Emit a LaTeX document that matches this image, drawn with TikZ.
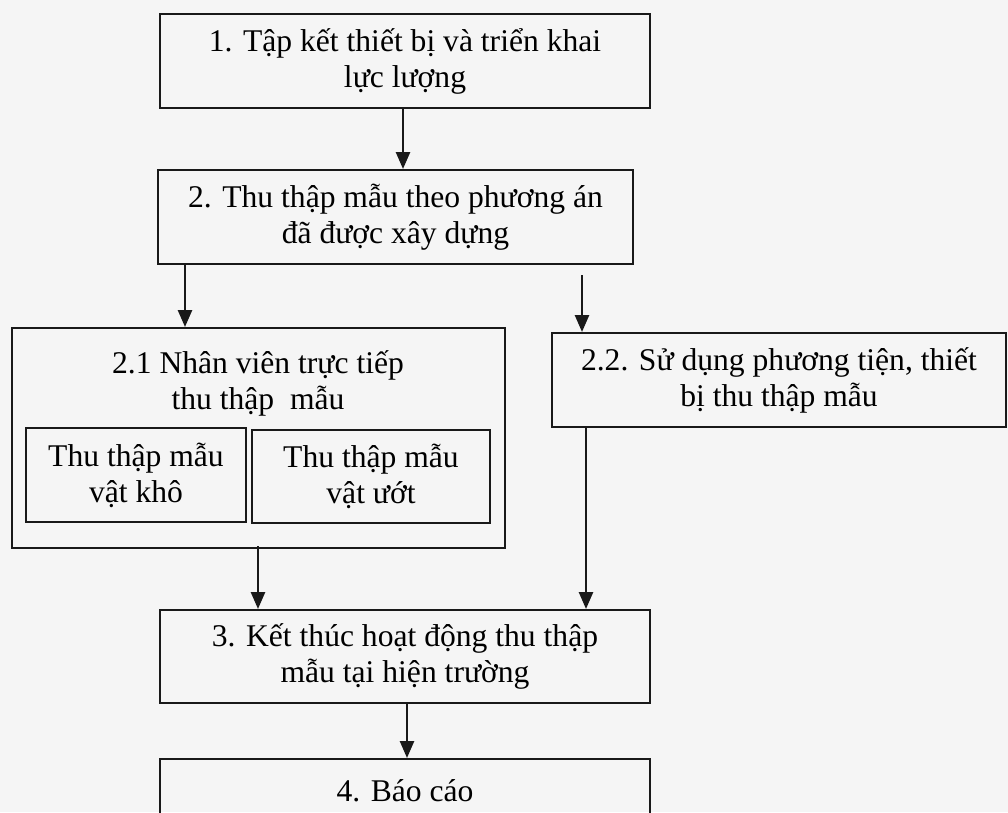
\documentclass[tikz,border=0pt]{standalone}
\usepackage{fontspec}
\setmainfont{Liberation Serif}
\usetikzlibrary{arrows.meta}
\definecolor{paper}{RGB}{245,245,245}
\definecolor{ink}{RGB}{25,25,25}
\tikzset{
  box/.style={draw=ink, line width=2pt, align=center, inner sep=0pt, font=\fontsize{31.6}{36}\selectfont},
  txt/.style={align=center, inner sep=0pt, font=\fontsize{31.6}{36}\selectfont},
  arr/.style={draw=ink, line width=2.6pt, -{Triangle[length=17pt,width=14pt]}}
}
\begin{document}
\begin{tikzpicture}[x=1pt,y=-1pt]
\useasboundingbox (0,0) rectangle (1008,812);
\fill[paper] (0,0) rectangle (1008,812);
\clip (0,0) rectangle (1008,812);
% boxes
\node[box, minimum width=490pt, minimum height=94pt] (b1) at (405,61) {1. Tập kết thiết bị và triển khai\\lực lượng};
\node[box, minimum width=475pt, minimum height=94pt] (b2) at (395.5,217) {2. Thu thập mẫu theo phương án\\đã được xây dựng};
\node[box, minimum width=493pt, minimum height=220pt] (b21) at (258.5,438) {};
\node[txt] (t21) at (258,383) {2.1 Nhân viên trực tiếp\\thu thập~ mẫu};
\node[box, minimum width=220pt, minimum height=94pt] (kho) at (136,475) {Thu thập mẫu\\vật khô};
\node[box, minimum width=238pt, minimum height=93pt] (uot) at (371,476.5) {Thu thập mẫu\\vật ướt};
\node[box, minimum width=454pt, minimum height=94pt] (b22) at (779,380) {2.2. Sử dụng phương tiện, thiết\\bị thu thập mẫu};
\node[box, minimum width=490pt, minimum height=93pt] (b3) at (405,656.5) {3. Kết thúc hoạt động thu thập\\mẫu tại hiện trường};
\node[box, minimum width=490pt, anchor=north, inner ysep=22pt, text height=20pt, text depth=40pt] (b4) at (405,758) {4. Báo cáo};
% arrows
\draw[arr] (b1.south -| 403,0) -- (b2.north -| 403,0);
\coordinate (s2l) at (185,264);
\coordinate (s2r) at (582,275);
\draw[arr] (b2.south -| s2l) -- (b21.north -| s2l);
\draw[arr] (s2r) -- (b22.north -| s2r);
\draw[arr] ([yshift=3pt]b21.south -| 258,0) -- (b3.north -| 258,0);
\draw[arr] (b22.south -| 586,0) -- (b3.north -| 586,0);
\draw[arr] (b3.south -| 407,0) -- (b4.north -| 407,0);
\end{tikzpicture}
\end{document}
